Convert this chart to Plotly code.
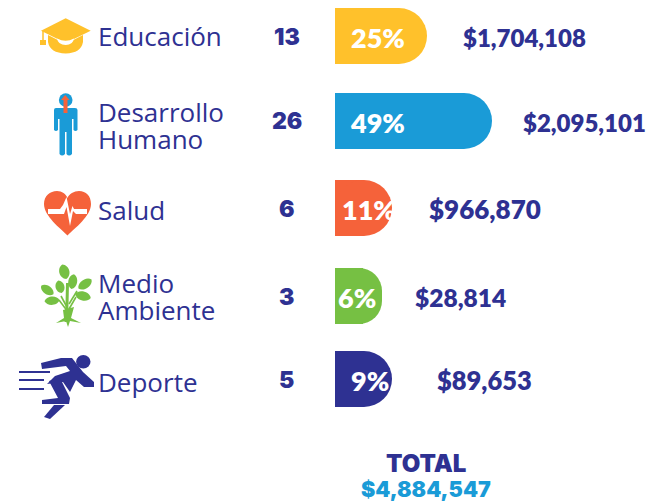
import math
import plotly.graph_objects as go

# ---- data ----
categories = [["Educación"], ["Desarrollo", "Humano"], ["Salud"], ["Medio", "Ambiente"], ["Deporte"]]
project_counts = [13, 26, 6, 3, 5]
percent_labels = ["25%", "49%", "11%", "6%", "9%"]
bar_lengths = [92, 157, 57, 47, 57]
amount_labels = ["$1,704,108", "$2,095,101", "$966,870", "$28,814", "$89,653"]
total_title = "TOTAL"
total_amount = "$4,884,547"

# ---- layout ----
W, H = 651, 503
rows = [36, 121, 208, 296, 379]
bar_start = 335
amount_gap = [34, 29, 35, 31, 43]
amount_size = [24, 24, 26, 24.5, 25.5]
pct_center = [43, 42, 34, 22, 35]
colors = ["#FFC12B", "#1A9BD7", "#F5623A", "#76C043", "#2E3192"]
NAVY, BLUE, YEL, ORG, GRN = "#2E3192", "#1A9BD7", "#FFC12B", "#F5623A", "#76C043"
LABEL = "Open Sans"
HEAVY = "Inter"
AMOUNT = "Lato"

fig = go.Figure()
# square stubs keep the start of each bar flat; the rounded bar sits on top
fig.add_bar(orientation="h", y=rows, x=[28] * 5, base=[bar_start] * 5, width=56,
            marker=dict(color=colors, line_width=0), hoverinfo="skip", showlegend=False)
fig.add_bar(
    orientation="h", y=rows, x=bar_lengths, base=[bar_start] * 5, width=56,
    marker=dict(color=colors, line_width=0, cornerradius=28),
    hoverinfo="skip", showlegend=False,
)

ann = []
def text(x, y, s, size, color, anchor="left", weight=400, family=LABEL):
    ann.append(dict(x=x, y=y, text=s, xref="x", yref="y", xanchor=anchor, yanchor="middle",
                    showarrow=False, align=anchor,
                    font=dict(family=family, size=size, color=color, weight=weight)))

label_y = [[36], [112, 139], [210], [283, 310], [382]]
for i, lines in enumerate(categories):
    for s, y in zip(lines, label_y[i]):
        text(95.5, y, s, 26, NAVY)
    text(286.5, rows[i] + (1 if i != 1 else 0), str(project_counts[i]), 23, NAVY, "center", 900, HEAVY)
    text(bar_start + pct_center[i], rows[i] + 1, percent_labels[i], 27, "#FFFFFF", "center", 800, AMOUNT)
    text(bar_start + bar_lengths[i] + amount_gap[i], rows[i] + 1, amount_labels[i], amount_size[i], NAVY, "left", 800, AMOUNT)
text(426, 463, total_title, 24, NAVY, "center", 900, HEAVY)
text(426, 489, total_amount, 21.5, BLUE, "center", 900, HEAVY)

shapes = []
def poly(pts, fill):
    d = "M " + " L ".join(f"{x},{y}" for x, y in pts) + " Z"
    shapes.append(dict(type="path", path=d, fillcolor=fill, line_width=0, xref="x", yref="y"))
def curve(d, fill):
    shapes.append(dict(type="path", path=d, fillcolor=fill, line_width=0, xref="x", yref="y"))
def stroke(pts, color, w):
    d = "M " + " L ".join(f"{x},{y}" for x, y in pts)
    shapes.append(dict(type="path", path=d, line=dict(color=color, width=w), xref="x", yref="y"))
def ell(cx, cy, rx, ry, color):
    shapes.append(dict(type="circle", x0=cx - rx, x1=cx + rx, y0=cy - ry, y1=cy + ry,
                       fillcolor=color, line_width=0, xref="x", yref="y"))
def leaf(cx, cy, length, thick, angle, color):
    a = math.radians(angle)
    ux, uy = math.cos(a), math.sin(a)
    vx, vy = -uy, ux
    tip1 = (cx + ux * length, cy + uy * length)
    tip0 = (cx - ux * length, cy - uy * length)
    c = [(cx + ux * length * s + vx * thick * t * 1.35, cy + uy * length * s + vy * thick * t * 1.35)
         for s, t in [(-0.7, 1), (0.7, 1), (0.7, -1), (-0.7, -1)]]
    d = (f"M {tip0[0]},{tip0[1]} C {c[0][0]},{c[0][1]} {c[1][0]},{c[1][1]} {tip1[0]},{tip1[1]} "
         f"C {c[2][0]},{c[2][1]} {c[3][0]},{c[3][1]} {tip0[0]},{tip0[1]} Z")
    curve(d, color)

# graduation cap
curve("M 48,35 L 48,42 Q 50,53 65.7,53.5 Q 81,53 83,42 L 83,35 L 65.7,44 Z", YEL)
poly([(41, 30.7), (65.7, 18.3), (90.7, 30.7), (65.7, 43)], YEL)
stroke([(43, 31), (43, 41)], YEL, 1.5)
poly([(40, 40), (46, 40), (46, 45), (40, 45)], YEL)
curve("M 57,38.5 Q 65.7,43 74,38.5 Q 73,45 65.7,45 Q 58,45 57,38.5 Z", "#FFFFFF")

# person
ell(65.7, 100, 6.8, 6.8, BLUE)
curve("M 56,108 L 75,108 Q 77.5,108 77.5,110 L 77.5,130 Q 75.5,132 73.5,130 L 73.5,119 L 72,119 "
      "L 72,154 Q 69,157 66.5,154 L 66.5,132 L 65,132 L 65,154 Q 62,157 59.5,154 L 59.5,119 "
      "L 58,119 L 58,130 Q 56,132 54,130 L 54,110 Q 54,108 56,108 Z", BLUE)
poly([(65.2, 95), (69.5, 100), (67.5, 100), (67.5, 113), (63.5, 113), (63.5, 100), (61, 100)], ORG)

# heart
curve("M 67.5,235.5 C 60,228 44,216 44,204 C 44,196 50,191 57,191 C 62,191 66,194 67.5,198 "
      "C 69,194 74,191 79,191 C 86,191 91,196 91,204 C 91,216 75,228 67.5,235.5 Z", ORG)
poly([(48, 209), (60, 209), (63, 205), (66.5, 197), (70, 214), (72.5, 206), (74, 209), (87, 209),
      (87, 214), (76, 214), (73, 211), (70, 226), (66.5, 207), (64, 214), (48, 214)], "#FFFFFF")

# tree
for cx, cy, l, t, ang in [(64.3, 271.7, 7.5, 5, 75), (60, 286.7, 6.5, 4.4, 75), (72.7, 281.7, 7.5, 4.4, 100),
                          (85, 284, 8, 4.4, 145), (83, 296, 8, 4.4, 15), (47.3, 290, 7.5, 4.2, 35),
                          (52, 300.7, 7.5, 4.2, 175)]:
    leaf(cx, cy, l, t, ang, GRN)
stroke([(67.5, 283), (67, 305), (66, 322)], GRN, 3)
stroke([(61, 296), (68, 309)], GRN, 1.6)
stroke([(59, 300), (68, 312)], GRN, 1.6)
stroke([(77, 291), (69, 304)], GRN, 1.6)
stroke([(76, 297), (69, 309)], GRN, 1.6)
poly([(63, 310), (74, 307), (71, 318), (81, 323), (70, 321), (68, 327), (66, 321), (56, 323), (64, 318)], GRN)

# runner
ell(83.3, 361.7, 7.2, 6.8, NAVY)
poly([(41, 363), (61, 358), (72, 358), (83, 372), (94, 382), (94, 387), (84, 387), (76, 380),
      (70, 392), (63, 382), (47, 384), (55, 376), (70, 371), (66, 366), (42, 369)], NAVY)
poly([(49, 381), (60, 378), (70, 398), (69, 404), (42, 404), (42, 400), (58, 398)], NAVY)
poly([(54, 405), (65, 405), (50, 419), (44, 417)], NAVY)
stroke([(19, 372), (50, 372)], NAVY, 2)
stroke([(19, 380), (44, 380)], NAVY, 2)
stroke([(19, 389), (44, 389)], NAVY, 2)

fig.update_layout(
    width=W, height=H, margin=dict(l=0, r=0, t=0, b=0),
    plot_bgcolor="white", paper_bgcolor="white", showlegend=False,
    barmode="overlay", annotations=ann, shapes=shapes,
    xaxis=dict(range=[0, W], visible=False, fixedrange=True),
    yaxis=dict(range=[H, 0], visible=False, fixedrange=True),
)
fig.write_html("out.html", config=dict(displayModeBar=False),
               post_script="document.body.style.margin='0';document.body.style.overflow='hidden';")
